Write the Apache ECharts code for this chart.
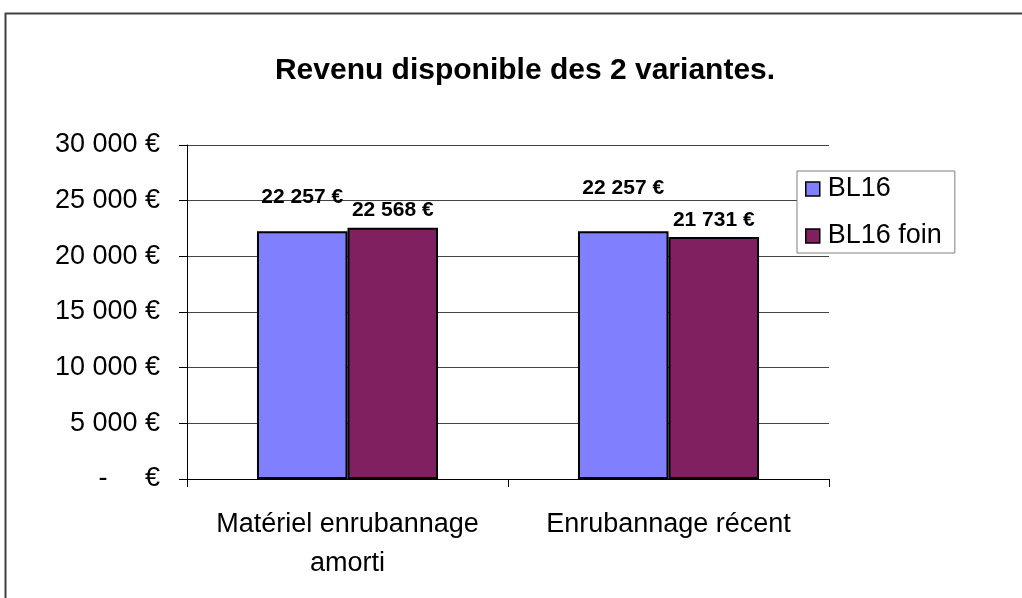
<!DOCTYPE html>
<html>
<head>
<meta charset="utf-8">
<script src="https://cdn.jsdelivr.net/npm/echarts@6/dist/echarts.min.js"></script>
<style>
  html, body { margin: 0; padding: 0; background: #fff; }
  #chart { width: 1022px; height: 598px; }
</style>
</head>
<body>
<div id="chart"></div>
<script>
// données
const categories = ['Matériel enrubannage\namorti', 'Enrubannage récent']
const seriesNames = ['BL16', 'BL16 foin']
const bl16 = [22257, 22257]
const bl16Foin = [22568, 21731]
const yTicks = [0, 5000, 10000, 15000, 20000, 25000, 30000]

// style: décalage des étiquettes (Excel les décale pour éviter le chevauchement)
const labelLift = [[24, 33], [7, 6]]
const colors = ['#8080FF', '#802060']

function euro(v) {
  if (v === 0) return '-     €'
  return String(v).replace(/\B(?=(\d{3})+(?!\d))/g, ' ') + ' €'
}

const FONT = '"Liberation Sans", Arial, sans-serif'

function makeSeries(name, values, idx) {
  return {
    name: name,
    type: 'bar',
    barGap: '0%',
    barCategoryGap: '43.6%',
    itemStyle: { color: colors[idx], borderColor: '#000', borderWidth: 2 },
    data: values.map((v, i) => ({
      value: v,
      label: { distance: labelLift[idx][i] }
    })),
    label: {
      show: true,
      position: 'top',
      formatter: p => euro(p.value),
      fontFamily: FONT,
      fontWeight: 'bold',
      fontSize: 21,
      color: '#000'
    }
  }
}

let myChart = echarts.init(document.getElementById('chart'), null, { renderer: 'canvas' })

const option = {
  animation: false,
  backgroundColor: '#fff',
  title: {
    text: 'Revenu disponible des 2 variantes.',
    left: 520,
    textAlign: 'center',
    top: 51,
    textStyle: { fontFamily: FONT, fontWeight: 'bold', fontSize: 30, color: '#000' }
  },
  graphic: [{
    type: 'rect',
    shape: { x: 5.5, y: 13.5, width: 1100, height: 700 },
    style: { fill: 'none', stroke: '#404040', lineWidth: 2 },
    silent: true
  }],
  legend: {
    orient: 'vertical',
    left: 797,
    top: 171,
    padding: [4, 13, 3, 8],
    itemGap: 19,
    itemWidth: 14,
    itemHeight: 14,
    icon: 'rect',
    backgroundColor: '#fff',
    borderColor: '#808080',
    borderWidth: 1,
    itemStyle: { borderColor: '#000', borderWidth: 1.5 },
    textStyle: { fontFamily: FONT, fontSize: 27, color: '#000', lineHeight: 28, padding: [0, 0, 0, 3] },
    data: seriesNames
  },
  grid: { left: 187, right: 193, top: 145, bottom: 119, containLabel: false },
  xAxis: {
    type: 'category',
    data: categories,
    axisLine: { lineStyle: { color: '#000', width: 1 } },
    axisTick: { show: true, length: 8, lineStyle: { color: '#000' } },
    axisLabel: {
      margin: 26,
      fontFamily: FONT,
      fontSize: 27,
      lineHeight: 39,
      color: '#000',
      interval: 0
    }
  },
  yAxis: {
    type: 'value',
    min: yTicks[0],
    max: yTicks[yTicks.length - 1],
    interval: yTicks[1] - yTicks[0],
    axisLine: { show: true, lineStyle: { color: '#000', width: 1 } },
    axisTick: { show: true, length: 8, lineStyle: { color: '#000' } },
    splitLine: { show: true, lineStyle: { color: '#444', width: 1 } },
    axisLabel: {
      margin: 27,
      fontFamily: FONT,
      fontSize: 27,
      color: '#000',
      formatter: euro
    }
  },
  series: [
    makeSeries(seriesNames[0], bl16, 0),
    makeSeries(seriesNames[1], bl16Foin, 1)
  ]
}

myChart.setOption(option)
window.onresize = function() {
  myChart.resize()
}
</script>
</body>
</html>
